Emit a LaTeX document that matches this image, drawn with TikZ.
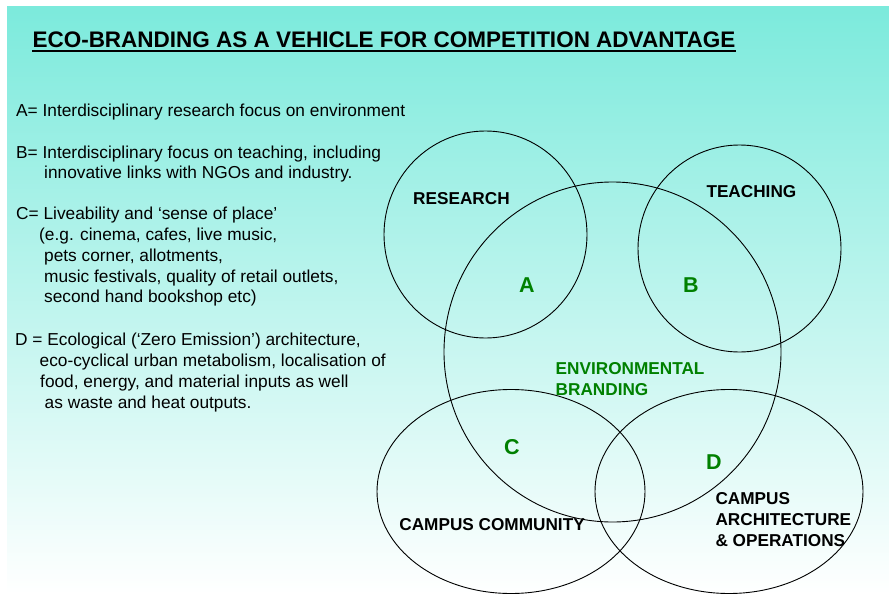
\documentclass[tikz,border=0pt]{standalone}
\usepackage{fontspec}
\setmainfont{Liberation Sans}
\usetikzlibrary{shapes.geometric}
\definecolor{sea}{RGB}{124,234,220}
\definecolor{leaf}{RGB}{0,128,0}
\begin{document}
\begin{tikzpicture}[x=1pt,y=-1pt,
  ring/.style={draw=black, line width=0.9pt, ellipse, inner sep=0pt},
  note/.style={anchor=base west, inner sep=0pt, font=\fontsize{17.3}{20.9}\selectfont},
  tag/.style={anchor=base west, inner sep=0pt, font=\bfseries\fontsize{17.2}{20.7}\selectfont},
  zone/.style={inner sep=0pt, text=leaf, font=\bfseries\fontsize{21.5}{24}\selectfont},
  heading/.style={anchor=base west, inner sep=0pt, font=\bfseries\fontsize{22.5}{26}\selectfont}]
\useasboundingbox (0,0) rectangle (889,594);
% backdrop
\shade[top color=sea, bottom color=white] (7,7) rectangle (889,594);

% title with its underline
\node[heading] (title) at (32.3,47.2) {ECO-BRANDING AS A VEHICLE FOR COMPETITION ADVANTAGE};
\draw[line width=2.4pt] ([yshift=-3.6pt]title.base west) -- ([yshift=-3.6pt]title.base east);

% key to the overlaps
\node[note] (a1) at (16,116) {A= Interdisciplinary research focus on environment};
\node[note] (b1) at (16,158.3) {B= Interdisciplinary focus on teaching, including};
\node[note] (b2) at (44,178.3) {innovative links with NGOs and industry.};
\node[note] (c1) at (16,219.3) {C= Liveability and ‘sense of place’};
\node[note] (c2) at (39,240.2) {(e.g. cinema, cafes, live music,};
\node[note] (c3) at (44,261.1) {pets corner, allotments,};
\node[note] (c4) at (44,282) {music festivals, quality of retail outlets,};
\node[note] (c5) at (44,302.9) {second hand bookshop etc)};
\node[note] (d1) at (15,345) {D = Ecological (‘Zero Emission’) architecture,};
\node[note] (d2) at (39.5,366) {eco-cyclical urban metabolism, localisation of};
\node[note] (d3) at (40,387) {food, energy, and material inputs as well};
\node[note] (d4) at (44.5,408) {as waste and heat outputs.};

% the five sets
\node[ring, minimum width=203pt, minimum height=207pt] (research) at (485.5,234.5) {};
\node[ring, minimum width=203pt, minimum height=207pt] (teaching) at (739.5,248.5) {};
\node[ring, minimum width=337pt, minimum height=340pt] (env) at (612.5,352) {};
\node[ring, minimum width=268pt, minimum height=204pt] (community) at (511,491.5) {};
\node[ring, minimum width=268pt, minimum height=204pt] (arch) at (729,491.5) {};

% set names
\node[tag] (researchlbl) at (413,204.3) {RESEARCH};
\node[tag] (teachinglbl) at (706.3,197.7) {TEACHING};
\node[tag, text=leaf] (env1) at (555.5,374.3) {ENVIRONMENTAL};
\node[tag, text=leaf] (env2) at (555.5,395) {BRANDING};
\node[tag] (communitylbl) at (399.2,530) {CAMPUS COMMUNITY};
\node[tag] (arch1) at (715.3,504.3) {CAMPUS};
\node[tag] (arch2) at (715.3,525.7) {ARCHITECTURE};
\node[tag] (arch3) at (715.3,546.7) {\& OPERATIONS};

% overlap letters
\node[zone] (zA) at (527,285) {A};
\node[zone] (zB) at (691,285) {B};
\node[zone] (zC) at (512,447) {C};
\node[zone] (zD) at (714,462) {D};
\end{tikzpicture}
\end{document}
